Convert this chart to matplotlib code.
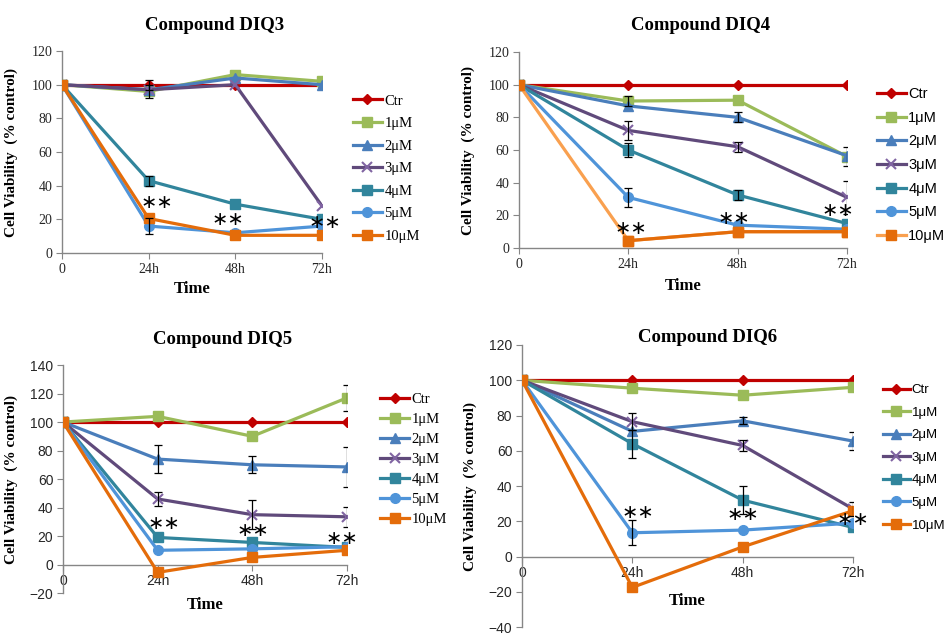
import matplotlib
matplotlib.use("Agg")
import matplotlib.pyplot as plt
import matplotlib.transforms as mtransforms
import numpy as np

times = ["0", "24h", "48h", "72h"]
doses = ["Ctr", "1μM", "2μM", "3μM", "4μM", "5μM", "10μM"]

# mean cell viability (% control), one row per dose
diq3_vals = [
    [100, 100, 100, 100],
    [100, 96, 106, 102],
    [100, 97, 104, 100],
    [100, 97, 100, 28],
    [100, 43, 29, 20],
    [100, 16, 12, 16],
    [100, 20.5, 10.5, 10.5],
]
diq3_err = [
    [0, 3, 0, 0],
    [0, 4, 0, 0],
    [0, 0, 0, 0],
    [0, 0, 0, 0],
    [0, 3, 0, 0],
    [0, 5, 0, 0],
    [0, 0, 0, 0],
]
diq3_stars = [30, 20, 18]

diq4_vals = [
    [100, 100, 100, 100],
    [100, 90, 90.5, 56],
    [100, 87, 80, 56.5],
    [100, 72, 62, 31],
    [100, 60, 32.5, 15],
    [100, 31, 14, 11.5],
    [100, 4.5, 10, 10],
]
diq4_err = [
    [0, 0, 0, 0],
    [0, 3, 0, 6],
    [0, 0, 3, 0],
    [0, 6, 3, 10],
    [0, 4, 3, 0],
    [0, 6, 0, 0],
    [0, 0, 0, 0],
]
diq4_stars = [12, 18, 23]

diq5_vals = [
    [100, 100, 100, 100],
    [100, 104, 90, 117],
    [100, 74, 70, 68.5],
    [100, 46, 35, 33.5],
    [100, 19, 15.5, 12],
    [100, 10, 11, 12.5],
    [100, -5.5, 5, 10],
]
diq5_err = [
    [0, 0, 0, 0],
    [0, 0, 0, 9],
    [0, 10, 6, 14],
    [0, 5, 10, 7],
    [0, 0, 0, 0],
    [0, 0, 0, 0],
    [0, 0, 0, 0],
]
diq5_stars = [29, 24, 18]

diq6_vals = [
    [100, 100, 100, 100],
    [100, 95.5, 91.5, 96],
    [100, 71, 77, 65.5],
    [100, 76.5, 63, 27],
    [100, 64, 32, 16.5],
    [100, 13.5, 15, 19],
    [100, -17.5, 5.5, 26],
]
diq6_err = [
    [0, 0, 0, 0],
    [0, 0, 0, 0],
    [0, 0, 2, 5],
    [0, 5, 3, 4],
    [0, 8, 8, 0],
    [0, 7, 0, 0],
    [0, 0, 0, 0],
]
diq6_stars = [25, 24, 21]

line_colors = ["#C00000", "#9BBB59", "#4A7EBB", "#604A7B", "#31859C", "#4F94D9", "#E46C0A"]
marker_colors = ["#C00000", "#9BBB59", "#4A7EBB", "#8064A2", "#31859C", "#4F94D9", "#E46C0A"]
markers = ["D", "s", "^", "x", "s", "o", "s"]
msizes = [5, 7, 7, 7, 7, 7, 7]

SERIF = "Liberation Serif"
SANS = "Liberation Sans"

panels = [
    dict(title="Compound DIQ3", vals=diq3_vals, err=diq3_err, stars=diq3_stars,
         sdx=[0.09, -0.08, 0.03],
         ylim=(0, 120), yticks=range(0, 121, 20), rect=[0.0656, 0.6016, 0.2751, 0.318],
         txy=(0.2275, 0.9606), tfont=SERIF, lfont=SERIF, lsize=10.5, lanchor=(1.119, 0.418),
         lspace=0.64, ylx=-0.169, toff=-26),
    dict(title="Compound DIQ4", vals=diq4_vals, err=diq4_err, stars=diq4_stars,
         sdx=[0.02, -0.03, -0.08],
         ylim=(0, 120), yticks=range(0, 121, 20), rect=[0.5492, 0.6094, 0.3471, 0.3087],
         txy=(0.741, 0.9606), tfont=SERIF, lfont=SANS, lsize=10.5, lanchor=(1.091, 0.423),
         lspace=0.66, ylx=-0.134, toff=-27),
    dict(title="Compound DIQ5", vals=diq5_vals, err=diq5_err, stars=diq5_stars,
         sdx=[0.07, 0.01, -0.05],
         ylim=(-20, 140), yticks=range(-20, 141, 20), rect=[0.0667, 0.0661, 0.3005, 0.359],
         txy=(0.236, 0.466), tfont=SANS, lfont=SERIF, lsize=10.5, lanchor=(1.116, 0.586),
         lspace=0.46, ylx=-0.158, toff=-29),
    dict(title="Compound DIQ6", vals=diq6_vals, err=diq6_err, stars=diq6_stars,
         sdx=[0.05, 0.0, 0.0],
         ylim=(-40, 120), yticks=range(-40, 121, 20), rect=[0.5524, 0.0125, 0.3503, 0.4442],
         txy=(0.749, 0.469), tfont=SANS, lfont=SANS, lsize=9.5, lanchor=(1.091, 0.600),
         lspace=0.78, ylx=-0.136, toff=-32),
]

fig = plt.figure(figsize=(9.45, 6.35), dpi=100)
x = np.arange(len(times))

for p in panels:
    ax = fig.add_axes(p["rect"])
    for i, dose in enumerate(doses):
        vals = np.array(p["vals"][i], dtype=float)
        ax.plot(x, vals, color=line_colors[i], lw=2.3, marker=markers[i],
                ms=msizes[i], mfc=marker_colors[i], mec=marker_colors[i],
                mew=1.5 if markers[i] == "x" else 1, label=dose, zorder=3)
        if p["title"] == "Compound DIQ4" and i == 6:
            # first segment is lighter orange in the original
            ax.lines[-1].set_color("#F9A04F")
            ax.lines[-1].set_markerfacecolor(marker_colors[i])
            ax.lines[-1].set_markeredgecolor(marker_colors[i])
            ax.plot(x[1:], vals[1:], color=line_colors[i], lw=2.3, marker=markers[i],
                    ms=msizes[i], mfc=marker_colors[i], mec=marker_colors[i], zorder=3)
        err = np.array(p["err"][i], dtype=float)
        keep = err > 0
        if keep.any():
            ax.errorbar(x[keep], vals[keep], yerr=err[keep], fmt="none", ecolor="black",
                        elinewidth=0.9, capsize=3, capthick=0.9, zorder=4)

    for j, sy in enumerate(p["stars"]):
        ax.text(x[j + 1] + p["sdx"][j], sy, "\u2217\u2217", ha="center", va="center",
                fontsize=14, family="DejaVu Sans", zorder=5)

    ax.set_xlim(0, 3)
    ax.set_ylim(*p["ylim"])
    ax.set_yticks(list(p["yticks"]))
    ax.set_xticks(x)
    ax.set_xticklabels(times)
    for s in ["top", "right"]:
        ax.spines[s].set_visible(False)
    ax.spines["bottom"].set_position(("data", 0))
    for s in ["left", "bottom"]:
        ax.spines[s].set_color("#868686")
        ax.spines[s].set_linewidth(1.0)
    ax.tick_params(direction="out", length=4, color="#868686", labelsize=10, pad=3)
    for lab in ax.get_xticklabels() + ax.get_yticklabels():
        lab.set_family(p["tfont"])
        lab.set_color("#262626")

    ax.set_ylabel("Cell Viability  (% control)", fontsize=11, fontweight="bold", family=SERIF)
    ax.yaxis.set_label_coords(p["ylx"], 0.5)

    trans = mtransforms.blended_transform_factory(ax.transAxes, ax.transData)
    ax.annotate("Time", xy=(0.5, 0), xycoords=trans, xytext=(0, p["toff"]),
                textcoords="offset points", ha="center", va="center",
                fontsize=12, fontweight="bold", family=SERIF)

    fig.text(p["txy"][0], p["txy"][1], p["title"], ha="center", va="center",
             fontsize=13.5, fontweight="bold", family=SERIF)

    handles, labels = ax.get_legend_handles_labels()
    ax.legend(handles[:7], labels[:7], loc="center left", bbox_to_anchor=p["lanchor"],
              frameon=False, borderpad=0, borderaxespad=0, handlelength=2.0,
              handletextpad=0.15, labelspacing=p["lspace"],
              prop={"family": p["lfont"], "size": p["lsize"]})

fig.savefig("out.png", dpi=100)
